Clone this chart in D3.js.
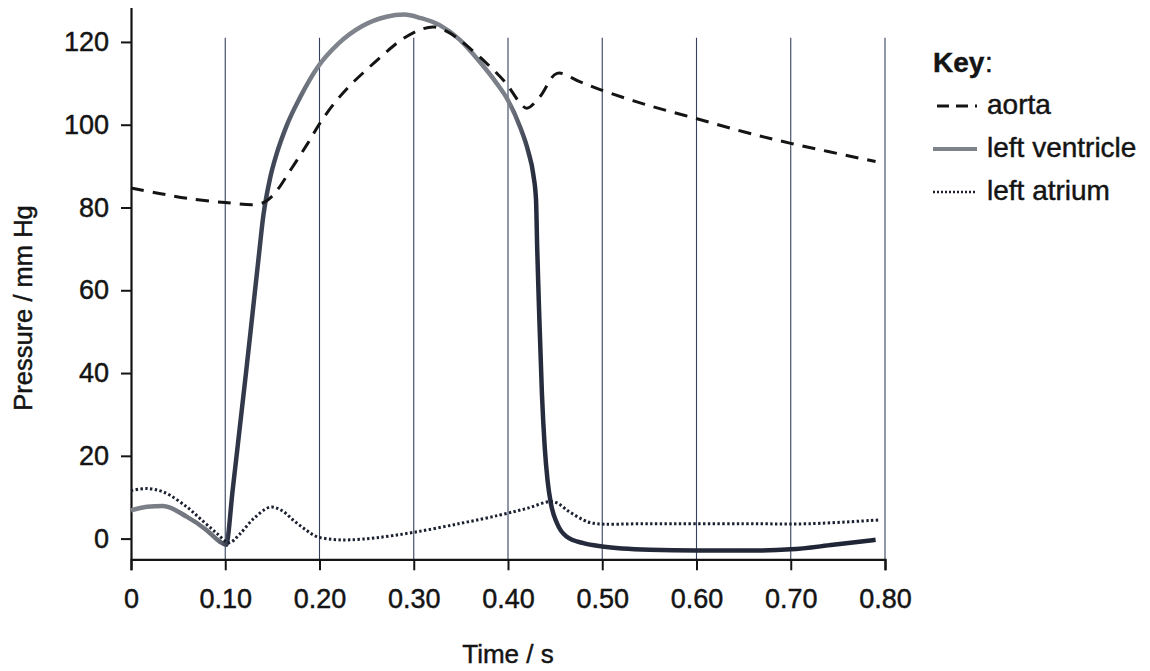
<!DOCTYPE html>
<html>
<head>
<meta charset="utf-8">
<script src="https://cdn.jsdelivr.net/npm/d3@7"></script>
<style>
  body { margin: 0; background: #fff; }
  svg { display: block; }
</style>
</head>
<body>
<div id="chart"></div>
<script>
// time (s) / pressure (mm Hg)
const aorta = [
  [0, 84.7], [0.03, 83.4], [0.06, 82.2], [0.10, 81.2], [0.137, 80.9], [0.15, 82.8],
  [0.17, 89.3], [0.187, 95.3], [0.20, 100.2], [0.215, 105], [0.232, 109.4], [0.25, 113.3],
  [0.268, 117], [0.285, 120.2], [0.305, 122.8], [0.322, 123.6], [0.338, 122.2], [0.353, 119.7],
  [0.377, 114.9], [0.398, 110], [0.412, 105.5], [0.42, 104], [0.434, 106.8], [0.452, 112.4],
  [0.476, 110.4], [0.50, 108.3], [0.547, 104.8], [0.598, 101.6], [0.65, 98.3], [0.70, 95.5],
  [0.79, 91.1]
];
const leftVentricle = [
  [0, 6.8], [0.017, 7.7], [0.034, 7.9], [0.059, 5.3], [0.08, 2.1], [0.094, -0.7], [0.1008, -1.5],
  [0.108, 12], [0.115, 26], [0.122, 40], [0.129, 54.5], [0.135, 67], [0.1404, 78],
  [0.1475, 87], [0.1546, 93], [0.1652, 99.8], [0.1794, 106.6], [0.198, 113.9], [0.22, 119.6],
  [0.245, 123.8], [0.271, 126.1], [0.29, 126.6], [0.307, 125.8], [0.328, 124], [0.349, 120.5],
  [0.37, 115.2], [0.388, 110], [0.399, 106.3], [0.4127, 99.5], [0.4215, 93.5], [0.4268, 88],
  [0.4297, 82], [0.431, 70], [0.433, 55], [0.436, 35], [0.439, 22], [0.442, 14], [0.4455, 8.5],
  [0.452, 3.7], [0.462, 0.5], [0.48, -1.1], [0.50, -1.9], [0.55, -2.7], [0.60, -2.9], [0.65, -2.9],
  [0.70, -2.6], [0.745, -1.5], [0.79, -0.3]
];
const leftAtrium = [
  [0, 11.6], [0.016, 12.1], [0.035, 11.2], [0.059, 7.7], [0.075, 4.5], [0.091, 1.3], [0.104, -1.0],
  [0.115, 1.0], [0.13, 4.8], [0.1475, 7.6], [0.16, 6.8], [0.172, 4.5], [0.185, 2.2], [0.197, 0.5],
  [0.215, -0.2], [0.232, -0.3], [0.26, 0.2], [0.2995, 1.5], [0.35, 3.7], [0.3915, 5.7], [0.42, 7.3],
  [0.448, 8.9], [0.465, 6.5], [0.48, 4.5], [0.4905, 3.7], [0.55, 3.6], [0.65, 3.6], [0.72, 3.6],
  [0.793, 4.5]
];
const xTicks = [0, 0.1, 0.2, 0.3, 0.4, 0.5, 0.6, 0.7, 0.8];
const yTicks = [0, 20, 40, 60, 80, 100, 120];
const keyLabels = ["aorta", "left ventricle", "left atrium"];

const width = 1150, height = 671;
const font = "'Liberation Sans', Arial, Helvetica, sans-serif";
const ink = "#141414";

const svg = d3.select("#chart").append("svg")
  .attr("width", width)
  .attr("height", height)
  .attr("viewBox", `0 0 ${width} ${height}`);

const x = d3.scaleLinear().domain([0, 0.8]).range([131, 885]);
const y = d3.scaleLinear().domain([-5, 128.2]).range([559.3, 8]);

// text in the scan is a little heavier than plain regular
function inkText(sel, size) {
  sel.style("font-family", font)
    .style("font-size", size + "px")
    .attr("fill", ink)
    .attr("stroke", ink)
    .attr("stroke-width", 0.45);
  return sel;
}

// vertical grid lines
svg.append("g")
  .selectAll("line")
  .data(xTicks.slice(1))
  .join("line")
  .attr("x1", d => x(d)).attr("x2", d => x(d))
  .attr("y1", y(121)).attr("y2", y(-5))
  .attr("stroke", "#34405c")
  .attr("stroke-width", 1.1);

// axes
const xAxis = svg.append("g")
  .attr("transform", `translate(0,${y(-5)})`)
  .call(d3.axisBottom(x).tickValues(xTicks).tickSize(11).tickPadding(19)
    .tickFormat(d => d === 0 ? "0" : d3.format(".2f")(d)));
const yAxis = svg.append("g")
  .attr("transform", `translate(${x(0)},0)`)
  .call(d3.axisLeft(y).tickValues(yTicks).tickSize(10).tickPadding(12));

[xAxis, yAxis].forEach(a => {
  a.select(".domain").attr("stroke", ink).attr("stroke-width", 2.2);
  a.selectAll(".tick line").attr("stroke", ink).attr("stroke-width", 2);
  inkText(a.selectAll("text"), 27);
});
yAxis.select(".domain").attr("d", `M0.5,${y(-5)}V${y(128.2)}`);

// axis titles
inkText(svg.append("text"), 26)
  .attr("x", 508).attr("y", 663)
  .attr("text-anchor", "middle")
  .text("Time / s");

inkText(svg.append("text"), 25.5)
  .attr("transform", "translate(32,308) rotate(-90)")
  .attr("text-anchor", "middle")
  .text("Pressure / mm Hg");

// scanned look of the ventricle trace: gray on top, darker on the steep parts
const defs = svg.append("defs");
const grad = defs.append("linearGradient")
  .attr("id", "lv-grad")
  .attr("gradientUnits", "userSpaceOnUse")
  .attr("x1", x(0)).attr("x2", x(0.8)).attr("y1", 0).attr("y2", 0);
[[0, "#7d828b"], [0.115, "#6c717a"], [0.13, "#2c3244"], [0.19, "#404756"],
 [0.25, "#80858d"], [0.50, "#7a7f88"], [0.535, "#262c3d"], [1, "#1e2434"]]
  .forEach(s => grad.append("stop").attr("offset", s[0]).attr("stop-color", s[1]));

const smooth = d3.line()
  .x(d => x(d[0]))
  .y(d => y(d[1]))
  .curve(d3.curveCatmullRom.alpha(0.5));

// the ventricle has sharp corners, monotone keeps them without loops
const monotone = d3.line()
  .x(d => x(d[0]))
  .y(d => y(d[1]))
  .curve(d3.curveMonotoneX);

svg.append("path")
  .datum(leftVentricle)
  .attr("fill", "none")
  .attr("stroke", "url(#lv-grad)")
  .attr("stroke-width", 4.5)
  .attr("stroke-linejoin", "round")
  .attr("d", monotone);

svg.append("path")
  .datum(leftAtrium)
  .attr("fill", "none")
  .attr("stroke", "#1b2030")
  .attr("stroke-width", 3)
  .attr("stroke-dasharray", "2.4 2.4")
  .attr("d", smooth);

svg.append("path")
  .datum(aorta)
  .attr("fill", "none")
  .attr("stroke", ink)
  .attr("stroke-width", 3)
  .attr("stroke-dasharray", "13 9")
  .attr("d", smooth);

// key
const key = svg.append("g");
inkText(key.append("text"), 28)
  .attr("x", 933).attr("y", 72)
  .style("font-weight", "bold")
  .text("Key");
inkText(key.append("text"), 28)
  .attr("x", 985).attr("y", 72)
  .text(":");

const keyStyles = [
  { stroke: ink, width: 3, dash: "12 7", x1: 937 },
  { stroke: "#7d828b", width: 4, dash: null, x1: 933 },
  { stroke: "#1b2030", width: 2.5, dash: "2 2", x1: 933 }
];
keyLabels.forEach((label, i) => {
  const by = 114 + i * 43;
  const s = keyStyles[i];
  key.append("line")
    .attr("x1", s.x1).attr("x2", 977)
    .attr("y1", by - 8).attr("y2", by - 8)
    .attr("stroke", s.stroke)
    .attr("stroke-width", s.width)
    .attr("stroke-dasharray", s.dash);
  inkText(key.append("text"), 28)
    .attr("x", 987).attr("y", by)
    .text(label);
});
</script>
</body>
</html>
